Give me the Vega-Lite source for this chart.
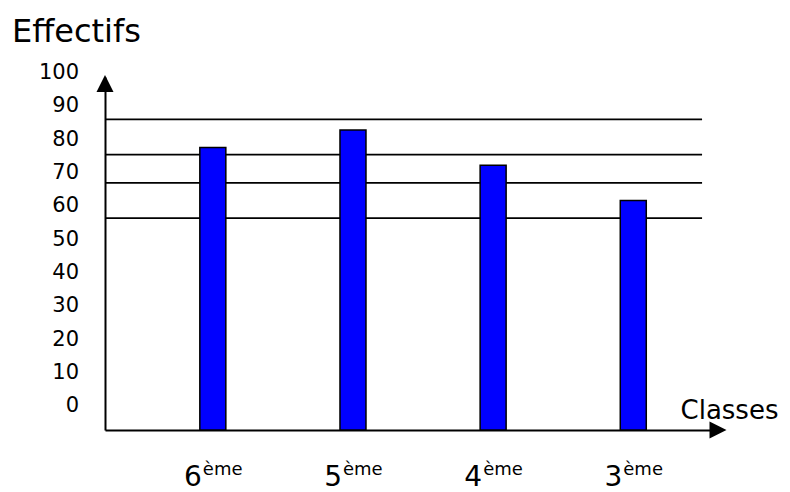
{
  "$schema": "https://vega.github.io/schema/vega-lite/v6.json",
  "width": 613,
  "height": 353,
  "autosize": {"type": "none"},
  "padding": {"left": 105, "top": 77, "right": 72, "bottom": 62},
  "title": {"text": "Effectifs", "anchor": "start", "frame": "group", "dx": -93, "offset": 13, "fontSize": 32, "font": "DejaVu Sans", "fontWeight": "normal", "color": "black"},
  "datasets": {
    "classes": [
      {"classe": "6ème", "rang": "6", "effectif": 80},
      {"classe": "5ème", "rang": "5", "effectif": 85},
      {"classe": "4ème", "rang": "4", "effectif": 75},
      {"classe": "3ème", "rang": "3", "effectif": 65}
    ],
    "grilles": [
      {"niveau": 88}, {"niveau": 78}, {"niveau": 70}, {"niveau": 60}
    ],
    "graduations": [
      {"valeur": 0}, {"valeur": 10}, {"valeur": 20}, {"valeur": 30}, {"valeur": 40}, {"valeur": 50},
      {"valeur": 60}, {"valeur": 70}, {"valeur": 80}, {"valeur": 90}, {"valeur": 100}
    ],
    "fleches": [{"axe": "fleche"}]
  },
  "layer": [
    {
      "data": {"name": "grilles"},
      "mark": {"type": "rule", "stroke": "black", "strokeWidth": 1.8},
      "encoding": {
        "y": {"field": "niveau", "type": "quantitative", "scale": {"domain": [0, 100], "nice": false}, "axis": null},
        "x": {"datum": 0, "type": "quantitative", "scale": {"domain": [0, 1], "nice": false}, "axis": null},
        "x2": {"datum": 0.974}
      }
    },
    {
      "data": {"name": "classes"},
      "mark": {"type": "bar", "width": 26, "fill": "#0000ff", "stroke": "black", "strokeWidth": 1.5},
      "encoding": {
        "x": {
          "field": "classe", "type": "nominal", "sort": null,
          "scale": {"type": "point", "padding": 0.687, "align": 0.56},
          "axis": {
            "title": "Classes", "labels": false, "ticks": false, "grid": false,
            "domainColor": "black", "domainWidth": 2,
            "titleAngle": 0, "titleAlign": "left", "titleBaseline": "alphabetic",
            "titleX": 575, "titleY": -12, "titleFontSize": 26, "titleFontWeight": "normal",
            "titleColor": "black", "titleFont": "DejaVu Sans"
          }
        },
        "y": {
          "field": "effectif", "type": "quantitative",
          "scale": {"domain": [0, 100], "nice": false},
          "axis": {"title": null, "labels": false, "ticks": false, "grid": false, "domainColor": "black", "domainWidth": 2}
        }
      }
    },
    {
      "data": {"name": "graduations"},
      "mark": {"type": "text", "align": "right", "baseline": "middle", "dx": -26, "fontSize": 21, "font": "DejaVu Sans", "color": "black"},
      "encoding": {
        "y": {"field": "valeur", "type": "quantitative", "scale": {"domain": [-7.05, 98.8], "nice": false, "zero": false}, "axis": null},
        "x": {"datum": 0, "type": "quantitative", "scale": {"domain": [0, 1], "nice": false}, "axis": null},
        "text": {"field": "valeur", "type": "quantitative"}
      }
    },
    {
      "data": {"name": "classes"},
      "mark": {"type": "text", "align": "right", "baseline": "alphabetic", "dx": -11, "dy": 56, "fontSize": 28, "font": "DejaVu Sans", "color": "black"},
      "encoding": {
        "x": {"field": "classe", "type": "nominal", "sort": null, "scale": {"type": "point", "padding": 0.687, "align": 0.56}, "axis": null},
        "y": {"datum": 0, "type": "quantitative", "scale": {"domain": [0, 100], "nice": false}, "axis": null},
        "text": {"field": "rang"}
      }
    },
    {
      "data": {"name": "classes"},
      "mark": {"type": "text", "text": "ème", "align": "left", "baseline": "alphabetic", "dx": -10, "dy": 45, "fontSize": 18, "font": "DejaVu Sans", "color": "black"},
      "encoding": {
        "x": {"field": "classe", "type": "nominal", "sort": null, "scale": {"type": "point", "padding": 0.687, "align": 0.56}, "axis": null},
        "y": {"datum": 0, "type": "quantitative", "scale": {"domain": [0, 100], "nice": false}, "axis": null}
      }
    },
    {
      "data": {"name": "fleches"},
      "mark": {"type": "point", "shape": "M0,-1L1,1L-1,1Z", "size": 289, "filled": true, "fill": "black", "opacity": 1, "strokeWidth": 0},
      "encoding": {
        "x": {"datum": 0, "type": "quantitative", "scale": {"domain": [0, 1], "nice": false}, "axis": null},
        "y": {"datum": 98.16, "type": "quantitative", "scale": {"domain": [0, 100], "nice": false}, "axis": null}
      }
    },
    {
      "data": {"name": "fleches"},
      "mark": {"type": "point", "shape": "M1,0L-1,-1L-1,1Z", "size": 289, "filled": true, "fill": "black", "opacity": 1, "strokeWidth": 0},
      "encoding": {
        "x": {"datum": 1, "type": "quantitative", "scale": {"domain": [0, 1], "nice": false}, "axis": null},
        "y": {"datum": 0, "type": "quantitative", "scale": {"domain": [0, 100], "nice": false}, "axis": null}
      }
    }
  ],
  "resolve": {"scale": {"x": "independent", "y": "independent"}},
  "config": {"view": {"stroke": null}, "font": "DejaVu Sans"}
}
